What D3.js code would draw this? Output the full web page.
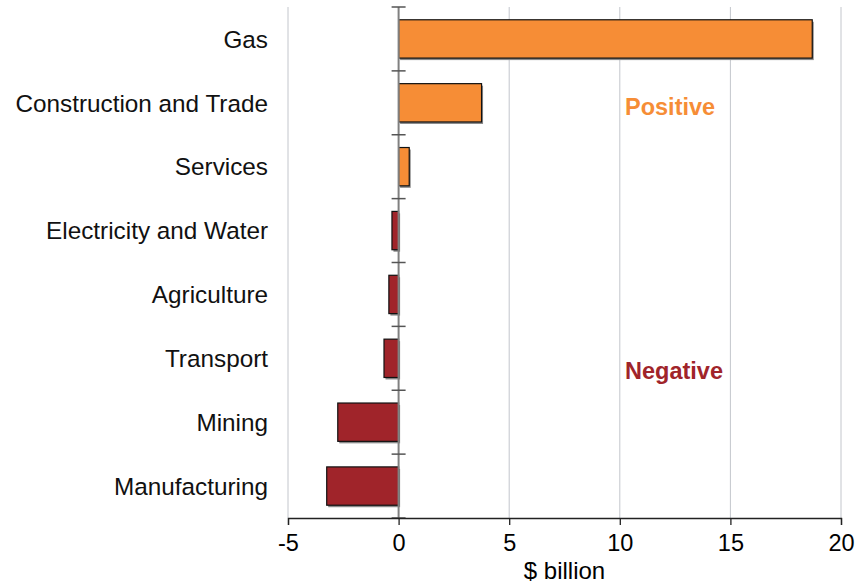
<!DOCTYPE html>
<html lang="en">
<head>
<meta charset="UTF-8">
<title>Industry impacts</title>
<script src="https://cdn.jsdelivr.net/npm/d3@7"></script>
<style>
  body { margin: 0; background: #fff; }
  text { font-family: "Liberation Sans", Arial, sans-serif; }
</style>
</head>
<body>
<div id="app"></div>
<script>
var width = 858, height = 585;
var margin = {left: 288, top: 7, right: 17, bottom: 67};

// data
var categories = ["Gas", "Construction and Trade", "Services", "Electricity and Water",
                  "Agriculture", "Transport", "Mining", "Manufacturing"];
var values = [18.7, 3.75, 0.48, -0.3, -0.44, -0.66, -2.75, -3.25];
var xTicks = [-5, 0, 5, 10, 15, 20];
var posColor = "#F68D36", negColor = "#A0242A";

var svg = d3.select("#app").append("svg")
    .attr("width", width).attr("height", height);

var x = d3.scaleLinear().domain([-5, 20])
    .range([margin.left, width - margin.right]);
var y = d3.scaleBand().domain(categories)
    .range([margin.top, height - margin.bottom])
    .paddingInner(0.4).paddingOuter(0.2);
var bottom = height - margin.bottom;

// vertical gridlines
svg.append("g").selectAll("line")
    .data(xTicks.filter(function (d) { return d !== 0; }))
    .enter().append("line")
    .attr("x1", function (d) { return x(d); })
    .attr("x2", function (d) { return x(d); })
    .attr("y1", margin.top).attr("y2", bottom)
    .attr("stroke", "#c3c6cc").attr("stroke-width", 1);

// bar shadows
svg.append("g").selectAll("rect")
    .data(values).enter().append("rect")
    .attr("x", function (d) { return Math.min(x(0), x(d)) + 1.5; })
    .attr("y", function (d, i) { return y(categories[i]) + 2; })
    .attr("width", function (d) { return Math.abs(x(d) - x(0)); })
    .attr("height", y.bandwidth())
    .attr("fill", "#8a8a8a");

// bars
svg.append("g").selectAll("rect")
    .data(values).enter().append("rect")
    .attr("x", function (d) { return Math.min(x(0), x(d)); })
    .attr("y", function (d, i) { return y(categories[i]); })
    .attr("width", function (d) { return Math.abs(x(d) - x(0)); })
    .attr("height", y.bandwidth())
    .attr("fill", function (d) { return d >= 0 ? posColor : negColor; })
    .attr("stroke", "#111").attr("stroke-width", 1.2);

// zero axis with category boundary ticks
svg.append("line")
    .attr("x1", x(0)).attr("x2", x(0))
    .attr("y1", margin.top).attr("y2", bottom)
    .attr("stroke", "#808080").attr("stroke-width", 2);
var bounds = categories.map(function (c) { return y(c) - y.step() * y.paddingInner() / 2; });
bounds.push(bottom);
svg.append("g").selectAll("line")
    .data(bounds).enter().append("line")
    .attr("x1", x(0) - 7).attr("x2", x(0) + 7)
    .attr("y1", function (d) { return d; })
    .attr("y2", function (d) { return d; })
    .attr("stroke", "#555").attr("stroke-width", 1.5);

// bottom axis
var xAxis = svg.append("g")
    .attr("transform", "translate(0," + bottom + ")")
    .call(d3.axisBottom(x).tickValues(xTicks).tickSize(7).tickPadding(9)
        .tickFormat(function (d) { return String(d); }));
xAxis.select(".domain").attr("stroke", "#222").attr("stroke-width", 1.3);
xAxis.selectAll(".tick line").attr("stroke", "#222").attr("stroke-width", 1.3);
xAxis.selectAll(".tick text")
    .attr("font-family", "Liberation Sans, Arial, sans-serif")
    .attr("font-size", 23.5).attr("fill", "#000");

svg.append("text")
    .attr("x", (x(-5) + x(20)) / 2).attr("y", 579)
    .attr("text-anchor", "middle")
    .attr("font-size", 24)
    .text("$ billion");

// category labels
svg.append("g").selectAll("text")
    .data(categories).enter().append("text")
    .attr("x", 268)
    .attr("y", function (d) { return y(d) + y.bandwidth() / 2; })
    .attr("dy", "0.36em")
    .attr("text-anchor", "end")
    .attr("font-size", 24.3)
    .attr("fill", "#111")
    .text(function (d) { return d; });

// annotations
svg.append("text")
    .attr("x", 625).attr("y", 115)
    .attr("font-size", 23.5).attr("font-weight", "bold")
    .attr("fill", posColor).text("Positive");
svg.append("text")
    .attr("x", 625).attr("y", 379)
    .attr("font-size", 23.5).attr("font-weight", "bold")
    .attr("fill", negColor).text("Negative");
</script>
</body>
</html>
